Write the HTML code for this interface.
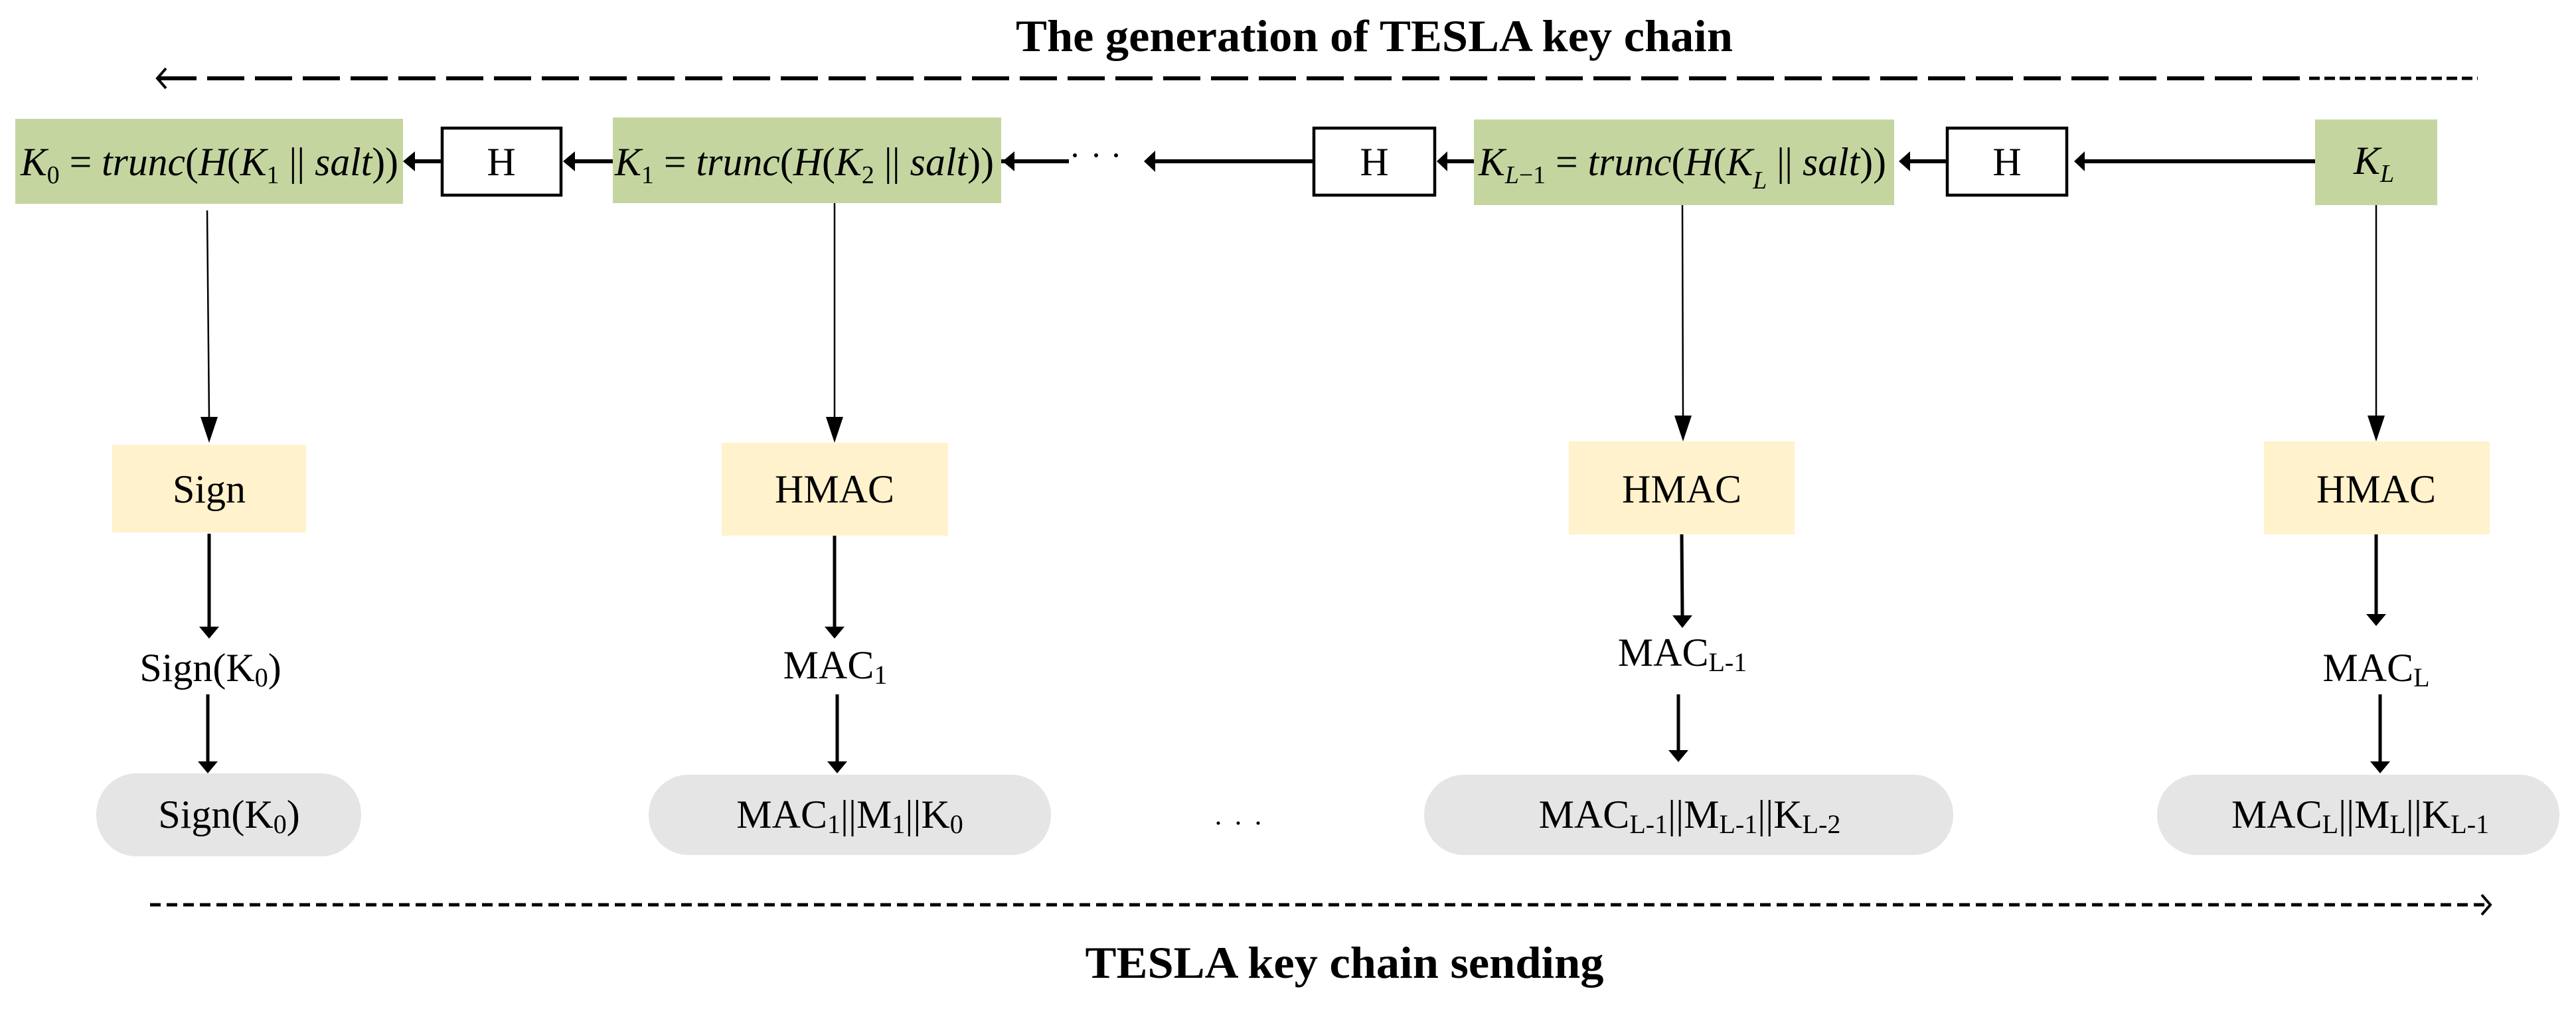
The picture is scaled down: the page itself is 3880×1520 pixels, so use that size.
<!DOCTYPE html>
<html><head><meta charset="utf-8"><style>html,body{margin:0;padding:0;background:#fff}svg{display:block}svg text{font-family:"Liberation Serif",serif}</style></head>
<body>
<svg width="3880" height="1520" viewBox="0 0 3880 1520" xmlns="http://www.w3.org/2000/svg">
<rect width="3880" height="1520" fill="#fff"/>
<!-- titles -->
<text x="2070" y="77" font-size="68" font-weight="bold" text-anchor="middle" textLength="1080" lengthAdjust="spacingAndGlyphs">The generation of TESLA key chain</text>
<text x="2025" y="1473" font-size="68" font-weight="bold" text-anchor="middle" textLength="781" lengthAdjust="spacingAndGlyphs">TESLA key chain sending</text>
<!-- top dashed line -->
<line x1="240" y1="118" x2="3470" y2="118" stroke="#000" stroke-width="6" stroke-dasharray="56 16"/>
<line x1="3478" y1="118" x2="3732" y2="118" stroke="#000" stroke-width="5" stroke-dasharray="16 7"/>
<polyline points="250,103 237,118 250,133" fill="none" stroke="#000" stroke-width="4"/>
<!-- bottom dashed line -->
<line x1="226" y1="1363" x2="3745" y2="1363" stroke="#000" stroke-width="5" stroke-dasharray="16 9"/>
<polyline points="3738,1348 3751,1363 3738,1378" fill="none" stroke="#000" stroke-width="4"/>

<!-- green boxes -->
<rect x="23" y="179" width="584" height="128" fill="#c5d5a0"/>
<rect x="923" y="177" width="585" height="129" fill="#c5d5a0"/>
<rect x="2220" y="180" width="633" height="129" fill="#c5d5a0"/>
<rect x="3487" y="180" width="184" height="129" fill="#c5d5a0"/>
<!-- H boxes -->
<rect x="666" y="193" width="179" height="101" fill="#fff" stroke="#000" stroke-width="4.5"/>
<rect x="1979" y="193" width="182" height="101" fill="#fff" stroke="#000" stroke-width="4.5"/>
<rect x="2933" y="193" width="180" height="101" fill="#fff" stroke="#000" stroke-width="4.5"/>
<g font-size="60" text-anchor="middle">
<text x="755" y="264">H</text><text x="2070" y="264">H</text><text x="3023" y="264">H</text>
</g>
<!-- formulas -->
<g font-size="60" font-style="italic">
<text x="31" y="264" textLength="569" lengthAdjust="spacingAndGlyphs">K<tspan font-size="38" font-style="normal" dy="12">0</tspan><tspan dy="-12" font-style="normal"> = </tspan>trunc<tspan font-style="normal">(</tspan>H<tspan font-style="normal">(</tspan>K<tspan font-size="38" font-style="normal" dy="12">1</tspan><tspan dy="-12" font-style="normal"> || </tspan>salt<tspan font-style="normal">))</tspan></text>
<text x="926" y="264" textLength="571" lengthAdjust="spacingAndGlyphs">K<tspan font-size="38" font-style="normal" dy="12">1</tspan><tspan dy="-12" font-style="normal"> = </tspan>trunc<tspan font-style="normal">(</tspan>H<tspan font-style="normal">(</tspan>K<tspan font-size="38" font-style="normal" dy="12">2</tspan><tspan dy="-12" font-style="normal"> || </tspan>salt<tspan font-style="normal">))</tspan></text>
<text x="2227" y="264" textLength="614" lengthAdjust="spacingAndGlyphs">K<tspan font-size="38" dy="12">L</tspan><tspan font-size="38" font-style="normal">−1</tspan><tspan dy="-12" font-style="normal"> = </tspan>trunc<tspan font-style="normal">(</tspan>H<tspan font-style="normal">(</tspan>K<tspan font-size="38" dy="20">L</tspan><tspan dy="-20" font-style="normal">  || </tspan>salt<tspan font-style="normal">))</tspan></text>
<text x="3545" y="262">K<tspan font-size="38" dy="12">L</tspan></text>
</g>
<!-- horizontal thick arrows -->
<g stroke="#000" stroke-width="6">
<line x1="666" y1="243" x2="625" y2="243"/>
<line x1="923" y1="243" x2="866" y2="243"/>
<line x1="1508" y1="243" x2="1610" y2="243"/>
<line x1="1979" y1="243" x2="1738" y2="243"/>
<line x1="2220" y1="243" x2="2180" y2="243"/>
<line x1="2933" y1="243" x2="2877" y2="243"/>
<line x1="3487" y1="243" x2="3140" y2="243"/>
</g>
<g fill="#000">
<polygon points="607,243 625,228 625,258"/>
<polygon points="848,243 866,228 866,258"/>
<polygon points="1510,243 1528,228 1528,258"/>
<polygon points="1723,243 1740,227 1740,259"/>
<polygon points="2164,243 2180,228 2180,258"/>
<polygon points="2860,243 2877,228 2877,258"/>
<polygon points="3124,243 3140,228 3140,258"/>
<circle cx="1619" cy="234" r="3"/><circle cx="1651" cy="234" r="3"/><circle cx="1681" cy="234" r="3"/>
</g>
<!-- thin vertical arrows -->
<g stroke="#000" stroke-width="2.5">
<line x1="312" y1="317" x2="315" y2="630"/>
<line x1="1257" y1="306" x2="1257" y2="630"/>
<line x1="2534" y1="309" x2="2535" y2="628"/>
<line x1="3579" y1="309" x2="3579" y2="628"/>
</g>
<g fill="#000">
<polygon points="315,667 302,628 328,628"/>
<polygon points="1257,667 1244,628 1270,628"/>
<polygon points="2535,665 2522,626 2548,626"/>
<polygon points="3579,665 3566,626 3592,626"/>
</g>
<!-- yellow boxes -->
<rect x="169" y="670" width="292" height="132" fill="#fff2cc"/>
<rect x="1087" y="667" width="341" height="140" fill="#fff2cc"/>
<rect x="2363" y="665" width="340" height="140" fill="#fff2cc"/>
<rect x="3410" y="665" width="340" height="140" fill="#fff2cc"/>
<g font-size="60" text-anchor="middle">
<text x="315" y="757">Sign</text>
<text x="1257" y="757">HMAC</text>
<text x="2533" y="757">HMAC</text>
<text x="3579" y="757">HMAC</text>
</g>
<!-- thick vertical arrows -->
<g stroke="#000" stroke-width="5">
<line x1="315" y1="804" x2="315" y2="945"/>
<line x1="313" y1="1046" x2="313" y2="1148"/>
<line x1="1257" y1="807" x2="1257" y2="945"/>
<line x1="1261" y1="1046" x2="1261" y2="1148"/>
<line x1="2533" y1="805" x2="2534" y2="928"/>
<line x1="2528" y1="1046" x2="2528" y2="1131"/>
<line x1="3579" y1="805" x2="3579" y2="926"/>
<line x1="3585" y1="1046" x2="3585" y2="1148"/>
</g>
<g fill="#000">
<polygon points="315,962 300,944 330,944"/>
<polygon points="313,1165 298,1147 328,1147"/>
<polygon points="1257,962 1242,944 1272,944"/>
<polygon points="1261,1165 1246,1147 1276,1147"/>
<polygon points="2534,946 2519,927 2549,927"/>
<polygon points="2528,1148 2513,1130 2543,1130"/>
<polygon points="3579,943 3564,925 3594,925"/>
<polygon points="3585,1165 3570,1147 3600,1147"/>
</g>
<!-- middle labels -->
<g font-size="60" text-anchor="middle">
<text x="317" y="1026">Sign(K<tspan font-size="40" dy="8">0</tspan><tspan dy="-8">)</tspan></text>
<text x="1258" y="1022">MAC<tspan font-size="40" dy="8">1</tspan></text>
<text x="2534" y="1003">MAC<tspan font-size="40" dy="8">L-1</tspan></text>
<text x="3579" y="1026">MAC<tspan font-size="40" dy="8">L</tspan></text>
</g>
<!-- pills -->
<g fill="#e5e5e5">
<rect x="145" y="1165" width="399" height="125" rx="60" ry="62"/>
<rect x="977" y="1167" width="606" height="121" rx="60" ry="60"/>
<rect x="2145" y="1167" width="797" height="121" rx="60" ry="60"/>
<rect x="3249" y="1167" width="606" height="121" rx="60" ry="60"/>
</g>
<g font-size="60" text-anchor="middle">
<text x="345" y="1247">Sign(K<tspan font-size="40" dy="8">0</tspan><tspan dy="-8">)</tspan></text>
<text x="1280" y="1247">MAC<tspan font-size="40" dy="8">1</tspan><tspan dy="-8">||M</tspan><tspan font-size="40" dy="8">1</tspan><tspan dy="-8">||K</tspan><tspan font-size="40" dy="8">0</tspan></text>
<text x="2545" y="1247">MAC<tspan font-size="40" dy="8">L-1</tspan><tspan dy="-8">||M</tspan><tspan font-size="40" dy="8">L-1</tspan><tspan dy="-8">||K</tspan><tspan font-size="40" dy="8">L-2</tspan></text>
<text x="3555" y="1247">MAC<tspan font-size="40" dy="8">L</tspan><tspan dy="-8">||M</tspan><tspan font-size="40" dy="8">L</tspan><tspan dy="-8">||K</tspan><tspan font-size="40" dy="8">L-1</tspan></text>
</g>
<g fill="#000"><circle cx="1835" cy="1240" r="2.5"/><circle cx="1865" cy="1240" r="2.5"/><circle cx="1895" cy="1240" r="2.5"/></g>
</svg>
</body></html>
